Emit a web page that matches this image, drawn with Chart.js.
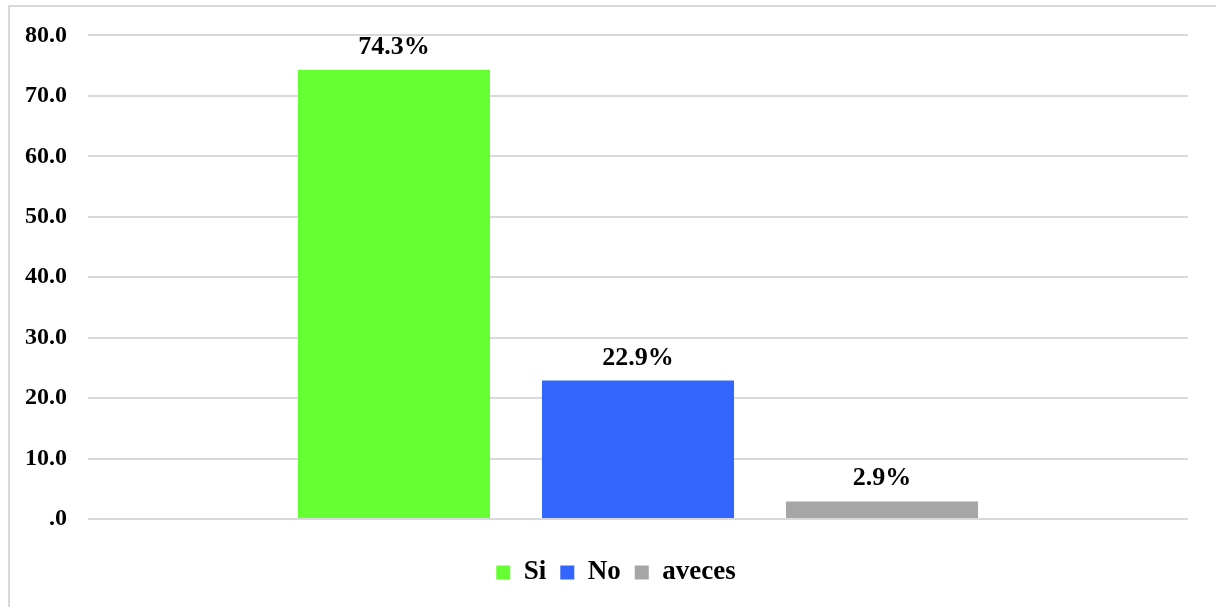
<!DOCTYPE html>
<html>
<head>
<meta charset="utf-8">
<script src="https://cdn.jsdelivr.net/npm/chart.js@4"></script>
<style>
  html, body { margin: 0; padding: 0; background: #fff; overflow: hidden; }
  #frame { position: absolute; left: 8px; top: 5px; width: 1220px; height: 610px; border: 2px solid #d9d9d9; box-sizing: border-box; }
  #wrap { position: absolute; left: 0; top: 0; width: 1216px; height: 607px; }
</style>
</head>
<body>
<div id="frame"></div>
<div id="wrap"><canvas id="myChart"></canvas></div>
<script>
const categories = [''];
const seriesNames = ['Si', 'No', 'aveces'];
const seriesValues = [74.3, 22.9, 2.9];
const seriesColors = ['#66ff33', '#3366ff', '#a6a6a6'];
const yTicks = [0, 10, 20, 30, 40, 50, 60, 70, 80];

const serif = '"Liberation Serif", "Times New Roman", serif';

// value labels above each bar
const valueLabels = {
  id: 'valueLabels',
  afterDatasetsDraw(chart) {
    const ctx = chart.ctx;
    ctx.save();
    ctx.font = 'bold 26px ' + serif;
    ctx.fillStyle = '#000';
    ctx.textAlign = 'center';
    ctx.textBaseline = 'alphabetic';
    chart.data.datasets.forEach((ds, i) => {
      chart.getDatasetMeta(i).data.forEach((bar, j) => {
        ctx.fillText(ds.data[j].toFixed(1) + '%', bar.x, bar.y - 16);
      });
    });
    ctx.restore();
  }
};

// nudge the legend a little to the right, under the bars, and up a bit
const legendShift = {
  id: 'legendShift',
  afterLayout(chart) {
    chart.legend.left += 22;
    chart.legend.right += 22;
    chart.legend.top -= 4;
    chart.legend.bottom -= 4;
  }
};

const ctx = document.getElementById('myChart').getContext('2d');
const myChart = new Chart(ctx, {
  type: 'bar',
  data: {
    labels: categories,
    datasets: seriesNames.map((name, i) => ({
      label: name,
      data: [seriesValues[i]],
      backgroundColor: seriesColors[i],
      barPercentage: 0.787,
      categoryPercentage: 0.6655
    }))
  },
  options: {
    responsive: true,
    maintainAspectRatio: false,
    animation: false,
    layout: { padding: { top: 35, right: 28, bottom: 7, left: 0 } },
    plugins: {
      legend: {
        position: 'bottom',
        labels: {
          font: { family: serif, weight: 'bold', size: 27 },
          color: '#000', boxWidth: 14, boxHeight: 14, padding: 14
        }
      },
      tooltip: { enabled: false }
    },
    scales: {
      x: {
        grid: { display: false },
        border: { display: false },
        ticks: { display: false },
        afterFit(scale) { scale.height = 30; }
      },
      y: {
        min: 0,
        max: 80,
        afterBuildTicks(scale) { scale.ticks = yTicks.map(v => ({ value: v })); },
        grid: { color: '#d9d9d9', lineWidth: 2, drawTicks: false },
        border: { display: false },
        ticks: {
          font: { family: serif, weight: 'bold', size: 24 },
          color: '#000',
          padding: 21,
          callback: v => v === 0 ? '.0' : v.toFixed(1)
        },
        afterFit(scale) { scale.width = 88; }
      }
    }
  },
  plugins: [valueLabels, legendShift]
});
</script>
</body>
</html>
